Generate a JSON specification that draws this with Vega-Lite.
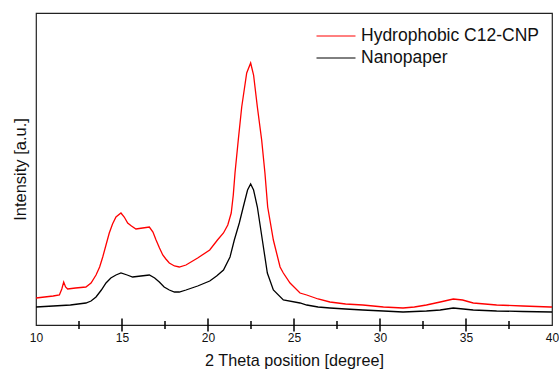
{
  "$schema": "https://vega.github.io/schema/vega-lite/v6.json",
  "autosize": "none",
  "width": 516,
  "height": 312,
  "padding": {"left": 36, "top": 13, "right": 7, "bottom": 47},
  "config": {
    "view": {"stroke": "#222", "strokeWidth": 1.2},
    "font": "Liberation Sans"
  },
  "datasets": {
    "red": [
      [10,27],[10.5,28],[11,29],[11.36,30],[11.5,36],[11.61,43],[11.72,38],[11.84,36],[12.3,37],[12.9,38],[13.2,42],[13.49,50],[13.7,58],[13.88,68],[14.07,80],[14.26,92],[14.45,101],[14.65,108],[14.94,112],[15.13,108],[15.33,102],[15.55,99],[15.81,96],[16.2,97],[16.59,98],[16.8,93],[16.98,85],[17.18,77],[17.37,70],[17.55,66],[17.75,62],[18.05,59],[18.33,58],[18.72,60],[19.4,67],[20.1,75],[20.55,85],[20.9,92],[21.15,100],[21.35,112],[21.47,130],[21.57,152],[21.76,185],[21.96,218],[22.25,252],[22.48,262],[22.65,250],[22.87,218],[23.12,185],[23.31,152],[23.47,118],[23.8,85],[24.19,58],[24.38,52],[24.77,42],[25.35,32],[25.74,30],[26.4,26],[27.09,23],[28,21],[29,20],[30.2,18],[31.34,17],[32,18],[32.7,20],[33.5,23],[34.26,26],[34.8,25],[35.42,22],[36.78,20],[38.3,19],[39.9,18],[40,18]
    ],
    "black": [
      [10,18],[11,19],[12,20],[12.9,22],[13.2,24],[13.49,28],[13.8,35],[14.07,42],[14.35,47],[14.65,50],[14.94,52],[15.3,50],[15.62,48],[16.1,49],[16.59,50],[16.9,47],[17.17,43],[17.45,38],[17.75,35],[18.05,33],[18.33,33],[18.72,35],[19.4,39],[20.1,44],[20.5,49],[20.9,55],[21.28,68],[21.53,85],[21.82,102],[22.05,118],[22.3,135],[22.48,141],[22.65,135],[22.87,118],[23.16,85],[23.45,52],[23.8,35],[24.38,25],[25.35,22],[25.74,20],[26.4,18],[27.09,17],[28,16],[29,15],[30.2,14],[31.34,13],[32.7,14],[33.5,15],[34.26,17],[35.42,15],[36.78,14],[38.3,13.5],[40,13]
    ],
    "majorTicks": [{"t": 15}, {"t": 20}, {"t": 25}, {"t": 30}, {"t": 35}],
    "minorTicks": [{"t": 12.5}, {"t": 17.5}, {"t": 22.5}, {"t": 27.5}, {"t": 32.5}, {"t": 37.5}]
  },
  "data": {"values": []},
  "layer": [
    {
      "data": {"name": "red"},
      "transform": [
        {"calculate": "datum[0]", "as": "theta"},
        {"calculate": "datum[1]", "as": "intensity"},
        {"calculate": "'Hydrophobic C12-CNP'", "as": "series"}
      ],
      "mark": {"type": "line", "strokeWidth": 1.3, "clip": true},
      "encoding": {
        "x": {"field": "theta", "type": "quantitative"},
        "y": {"field": "intensity", "type": "quantitative"},
        "color": {"field": "series", "type": "nominal"}
      }
    },
    {
      "data": {"name": "black"},
      "transform": [
        {"calculate": "datum[0]", "as": "theta"},
        {"calculate": "datum[1]", "as": "intensity"},
        {"calculate": "'Nanopaper'", "as": "series"}
      ],
      "mark": {"type": "line", "strokeWidth": 1.3, "clip": true},
      "encoding": {
        "x": {
          "field": "theta", "type": "quantitative",
          "scale": {"domain": [10, 40], "nice": false, "zero": false},
          "axis": {
            "title": "2 Theta position [degree]",
            "values": [10, 15, 20, 25, 30, 35, 40],
            "ticks": false,
            "tickSize": 0,
            "domain": false,
            "grid": false,
            "labelFontSize": 12,
            "labelColor": "#111",
            "labelPadding": 7,
            "labelFlush": false,
            "titleFontSize": 16.2,
            "titleFontWeight": "normal",
            "titleColor": "#111",
            "titlePadding": 9
          }
        },
        "y": {
          "field": "intensity", "type": "quantitative",
          "scale": {"domain": [0, 312], "nice": false, "zero": false},
          "axis": {
            "title": "Intensity [a.u.]",
            "labels": false, "ticks": false, "domain": false, "grid": false,
            "titleFontSize": 16.5,
            "titleFontWeight": "normal",
            "titleColor": "#111",
            "titlePadding": 8
          }
        },
        "color": {
          "field": "series", "type": "nominal",
          "scale": {"domain": ["Hydrophobic C12-CNP", "Nanopaper"], "range": ["#ff0000", "#000000"]},
          "legend": {
            "title": null,
            "orient": "none",
            "legendX": 280,
            "legendY": 12,
            "symbolType": "stroke",
            "symbolSize": 1521,
            "symbolStrokeWidth": 1,
            "labelFontSize": 17.5,
            "labelLimit": 0,
            "labelColor": "#111",
            "labelOffset": 5,
            "clipHeight": 22,
            "rowPadding": 0
          }
        }
      }
    },
    {
      "data": {"name": "majorTicks"},
      "mark": {"type": "tick", "orient": "vertical", "color": "#000000", "size": 13, "thickness": 1.5, "opacity": 1},
      "encoding": {
        "x": {"field": "t", "type": "quantitative"},
        "y": {"datum": 0}
      }
    },
    {
      "data": {"name": "minorTicks"},
      "mark": {"type": "tick", "orient": "vertical", "color": "#000000", "size": 8, "thickness": 1.5, "opacity": 1},
      "encoding": {
        "x": {"field": "t", "type": "quantitative"},
        "y": {"datum": 0}
      }
    }
  ]
}
